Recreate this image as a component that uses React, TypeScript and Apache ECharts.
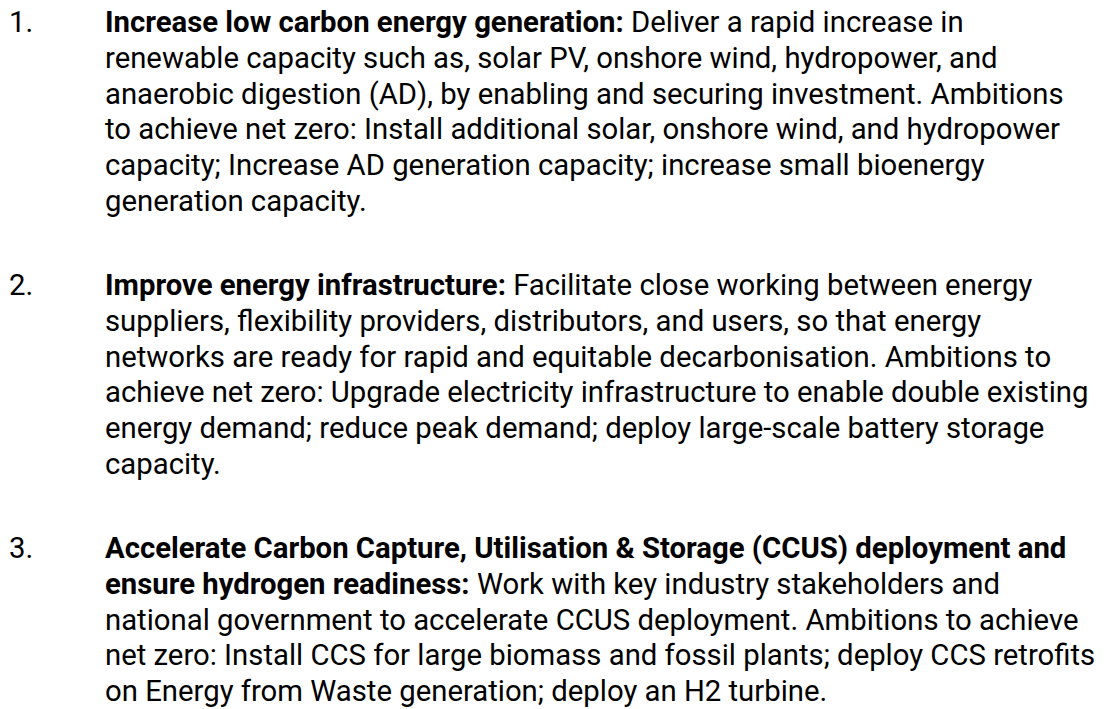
import React, { useEffect, useRef } from "react";
import * as echarts from "echarts";

// Content of the reference, line by line (bold lead-in + regular text)
const itemNumbers = ["1.", "2.", "3."];

const item1Lines = [
  { b: "Increase low carbon energy generation:", t: " Deliver a rapid increase in" },
  { b: "", t: "renewable capacity such as, solar PV, onshore wind, hydropower, and" },
  { b: "", t: "anaerobic digestion (AD), by enabling and securing investment. Ambitions" },
  { b: "", t: "to achieve net zero: Install additional solar, onshore wind, and hydropower" },
  { b: "", t: "capacity; Increase AD generation capacity; increase small bioenergy" },
  { b: "", t: "generation capacity." },
];

const item2Lines = [
  { b: "Improve energy infrastructure:", t: " Facilitate close working between energy" },
  { b: "", t: "suppliers, flexibility providers, distributors, and users, so that energy" },
  { b: "", t: "networks are ready for rapid and equitable decarbonisation. Ambitions to" },
  { b: "", t: "achieve net zero: Upgrade electricity infrastructure to enable double existing" },
  { b: "", t: "energy demand; reduce peak demand; deploy large-scale battery storage" },
  { b: "", t: "capacity." },
];

const item3Lines = [
  { b: "Accelerate Carbon Capture, Utilisation & Storage (CCUS) deployment and", t: "" },
  { b: "ensure hydrogen readiness:", t: " Work with key industry stakeholders and" },
  { b: "", t: "national government to accelerate CCUS deployment. Ambitions to achieve" },
  { b: "", t: "net zero: Install CCS for large biomass and fossil plants; deploy CCS retrofits" },
  { b: "", t: "on Energy from Waste generation; deploy an H2 turbine." },
];

const items = [item1Lines, item2Lines, item3Lines];

const FONT = "Roboto, 'Noto Sans', sans-serif";
const FONT_SIZE = 29.3;
const LINE_H = 35.8;
const ITEM_BASELINES = [32, 295, 558];
const NUM_X = 9;
const TEXT_X = 105;
const COLOR = "#000000";
const CENTRAL_OFFSET = FONT_SIZE * 0.34; // baseline - central for Roboto

function esc(s: string) {
  return s.replace(/[{}|]/g, "");
}

export default function App() {
  const ref = useRef<HTMLDivElement>(null);
  useEffect(() => {
    if (!ref.current) return;
    const chart = echarts.init(ref.current, undefined, { renderer: "svg" });
    const elements: any[] = [];
    items.forEach((lines, i) => {
      const base = ITEM_BASELINES[i];
      elements.push({
        type: "text",
        x: NUM_X,
        y: base - CENTRAL_OFFSET,
        style: {
          text: itemNumbers[i],
          fontFamily: FONT,
          fontSize: FONT_SIZE,
          fill: COLOR,
          verticalAlign: "middle",
          align: "left",
        },
      });
      lines.forEach((ln, k) => {
        let txt = "";
        if (ln.b) txt += "{b|" + esc(ln.b) + "}";
        if (ln.t) txt += "{n|" + esc(ln.t) + "}";
        elements.push({
          type: "text",
          x: TEXT_X,
          y: base + k * LINE_H - CENTRAL_OFFSET,
          style: {
            text: txt,
            fontFamily: FONT,
            fontSize: FONT_SIZE,
            fill: COLOR,
            verticalAlign: "middle",
            align: "left",
            rich: {
              b: { fontFamily: FONT, fontSize: FONT_SIZE, fontWeight: "bold", fill: COLOR, lineHeight: FONT_SIZE },
              n: { fontFamily: FONT, fontSize: FONT_SIZE, fontWeight: "normal", fill: COLOR, lineHeight: FONT_SIZE },
            },
          },
        });
      });
    });
    chart.setOption({
      animation: false,
      backgroundColor: "#ffffff",
      graphic: { elements },
    });
    return () => chart.dispose();
  }, []);
  return (
    <div
      ref={ref}
      style={{ position: "fixed", left: 0, top: 0, width: 1106, height: 709, background: "#fff" }}
    />
  );
}
